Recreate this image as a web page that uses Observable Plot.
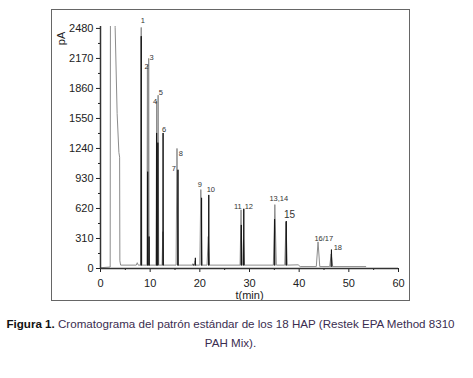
<!DOCTYPE html>
<html>
<head>
<meta charset="utf-8">
<script src="https://cdn.jsdelivr.net/npm/d3@7"></script>
<script src="https://cdn.jsdelivr.net/npm/@observablehq/plot@0.6"></script>
<style>
  html, body { margin: 0; padding: 0; background: #fff; }
  #wrap { position: relative; width: 473px; height: 378px; overflow: hidden; font-family: "Liberation Sans", Arial, sans-serif; }
  #chart { position: absolute; left: 0; top: 0; }
  #frame { position: absolute; left: 51px; top: 9px; width: 359px; height: 292px; border: 1px solid #666; box-sizing: border-box; pointer-events: none; }
  #caption { position: absolute; left: -6px; top: 314px; width: 473px; text-align: center; font-size: 11.6px; line-height: 19px; color: #3a2d50; white-space: nowrap; }
  #caption b { color: #111; }
</style>
</head>
<body>
<div id="wrap">
  <div id="chart"></div>
  <div id="frame"></div>
  <div id="caption"><b>Figura 1.</b> Cromatograma del patrón estándar de los 18 HAP (Restek EPA Method 8310<br>PAH Mix).</div>
</div>
<script>
// ---- data (t in min, signal in pA) ----
const xTicks = [0, 10, 20, 30, 40, 50, 60];
const xMinorTicks = [5, 15, 25, 35, 45, 55];
const yTicks = [0, 310, 620, 930, 1240, 1550, 1860, 2170, 2480];
const yMinorTicks = [155, 465, 775, 1085, 1395, 1705, 2015, 2325];

const baseTimes  = [0, 1.9, 4.1, 20, 39.8, 40.2, 53.4];
const baseValues = [8, 15, 35, 35, 38, 20, 20];

const solventTimes  = [1.95, 2.0, 2.9, 2.95, 3.35, 3.7, 3.85, 3.9, 4.05];
const solventValues = [15, 2700, 2700, 2490, 1600, 1200, 1150, 80, 35];

const grayPeakTimes   = [7.4, 8.2, 9.45, 9.7, 11.3, 11.6, 12.55, 15.4, 18.6, 19.05, 20.2, 21.7, 28.3, 28.8, 35.1, 37.35, 43.8, 46.45];
const grayPeakHeights = [60, 2490, 2100, 2170, 1730, 1790, 380, 1240, 50, 80, 815, 330, 606, 300, 660, 480, 275, 150];
const grayPeakWidths  = [0.2, 0.12, 0.1, 0.1, 0.12, 0.12, 0.15, 0.18, 0.12, 0.12, 0.22, 0.25, 0.2, 0.2, 0.3, 0.25, 0.35, 0.3];

const blackPeakTimes   = [8.2, 9.5, 9.78, 11.3, 11.55, 12.6, 15.6, 18.7, 19.1, 20.35, 21.8, 28.35, 28.85, 35.05, 37.4, 46.5];
const blackPeakHeights = [2400, 1000, 330, 1400, 1300, 1400, 1020, 40, 110, 730, 760, 450, 617, 510, 490, 195];
const blackPeakWidths  = [0.04, 0.04, 0.04, 0.04, 0.04, 0.05, 0.05, 0.04, 0.04, 0.05, 0.05, 0.05, 0.05, 0.06, 0.06, 0.08];

const peakLabels      = ["1", "2", "3", "4", "5", "6", "7", "8", "9", "10", "11", "12", "13,14", "15", "16/17", "18"];
const peakLabelTimes  = [8.52, 9.26, 10.27, 10.97, 12.14, 12.78, 14.76, 16.17, 19.99, 22.21, 27.64, 29.86, 35.9, 38.05, 44.96, 47.78];
const peakLabelValues = [2563, 2087, 2180, 1726, 1819, 1431, 1036, 1191, 865, 819, 635, 635, 720, 551, 307, 214];

// ---- build traces ----
function baseAt(t) {
  let v = baseValues[0];
  for (let i = 0; i < baseTimes.length; i++) if (baseTimes[i] <= t) v = baseValues[i];
  return v;
}
const grayTrace = [];
baseTimes.forEach((t, i) => grayTrace.push({t, v: baseValues[i]}));
solventTimes.forEach((t, i) => grayTrace.push({t, v: solventValues[i]}));
grayPeakTimes.forEach((t, i) => {
  const w = grayPeakWidths[i], b = baseAt(t);
  grayTrace.push({t: t - w, v: b}, {t, v: grayPeakHeights[i]}, {t: t + w, v: b});
});
grayTrace.sort((a, b) => a.t - b.t);

const blackTrace = [];
blackPeakTimes.forEach((t, i) => {
  const w = blackPeakWidths[i], b = baseAt(t);
  blackTrace.push({id: i, t: t - w, v: b}, {id: i, t, v: blackPeakHeights[i]}, {id: i, t: t + w, v: b});
});

const labels = peakLabels.map((label, i) => ({label, t: peakLabelTimes[i], v: peakLabelValues[i]}));

const chart = Plot.plot({
  width: 473,
  height: 305,
  marginLeft: 100,
  marginRight: 75,
  marginTop: 26,
  marginBottom: 37,
  style: {fontFamily: "'Liberation Sans', Arial, sans-serif", fontSize: "11px", color: "#222", background: "transparent", overflow: "visible"},
  x: {domain: [0, 60], label: null},
  y: {domain: [0, 2500], label: null},
  marks: [
    Plot.line(grayTrace, {x: "t", y: "v", stroke: "#8c8c8c", strokeWidth: 1, clip: true}),
    Plot.line(blackTrace, {x: "t", y: "v", z: "id", stroke: "#161616", strokeWidth: 1, clip: true}),
    Plot.axisX({ticks: xTicks, tickSize: 4, tickPadding: 7, tickFormat: d => String(d), label: null, fontSize: 11}),
    Plot.axisX({ticks: xMinorTicks, tickSize: 2, text: null, label: null}),
    Plot.axisY({ticks: yTicks, tickSize: 4, tickPadding: 3, tickFormat: d => String(d), label: null, fontSize: 11}),
    Plot.axisY({ticks: yMinorTicks, tickSize: 2, text: null, label: null}),
    Plot.ruleY([0], {stroke: "#333", strokeWidth: 1.5}),
    Plot.ruleX([0], {stroke: "#333", strokeWidth: 1.5}),
    Plot.text(labels, {x: "t", y: "v", text: "label", fill: "#333",
      fontSize: d => d.label === "15" ? 10 : 7.5}),
    Plot.text(["t(min)"], {frameAnchor: "bottom", dy: 27, lineAnchor: "middle", textAnchor: "middle", fontSize: 11, fill: "#222"}),
    Plot.text(["pA"], {frameAnchor: "top-left", dx: -39, dy: 12, rotate: -90, lineAnchor: "middle", textAnchor: "middle", fontSize: 11, fill: "#222"})
  ]
});
document.getElementById("chart").appendChild(chart);
</script>
</body>
</html>
